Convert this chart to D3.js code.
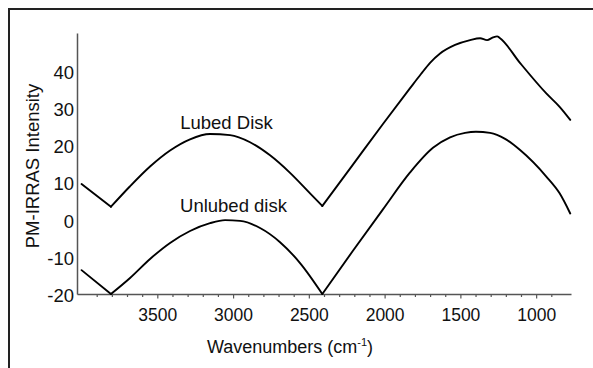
<!DOCTYPE html>
<html><head><meta charset="utf-8">
<script src="https://cdn.jsdelivr.net/npm/d3@7"></script>
<style>
html,body{margin:0;padding:0;background:#fff;}
svg{display:block;font-family:"Liberation Sans",Arial,sans-serif;}
</style></head>
<body>
<svg id="chart" width="593" height="368"></svg>
<script>
// ---- data ----
const lubedWn  = [4000, 3806, 3680, 3548, 3416, 3284, 3152, 3020, 2888, 2756, 2624, 2492, 2411,
                  2209, 2011, 1832, 1760, 1700, 1634, 1535, 1436, 1370, 1324, 1285, 1258, 1238, 1107, 933, 845, 775];
const lubedVal = [9.5, 3.4, 8.9, 14.2, 18.5, 21.5, 22.9, 22.6, 20.7, 17.2, 12.5, 7.0, 3.6,
                  14.7, 25.6, 35.2, 39.0, 42.0, 44.5, 46.8, 48.1, 48.6, 48.1, 48.8, 49.1, 48.6, 42.0, 33.8, 30.2, 26.7];
const unlubedWn  = [4000, 3806, 3680, 3548, 3416, 3284, 3152, 3053, 2954, 2822, 2690, 2558, 2411,
                    2209, 2011, 1832, 1681, 1568, 1469, 1397, 1304, 1205, 1106, 933, 845, 775];
const unlubedVal = [-13.6, -20, -15.7, -10.6, -6.3, -3.1, -1.0, -0.2, -0.4, -2.3, -6.1, -11.7, -20,
                    -8.4, 2.7, 12.6, 19.2, 22.0, 23.2, 23.5, 23.2, 21.6, 18.6, 11.5, 7.0, 1.6];
const minimaWn = [3806, 2411];
const xTickValues = d3.range(900, 4000, 100);
const xLabelValues = [3500, 3000, 2500, 2000, 1500, 1000];
const yTickValues = [-20, -10, 0, 10, 20, 30, 40];
const seriesLabels = ["Lubed Disk", "Unlubed disk"];

const svg = d3.select("#chart");
const FONT = '"Liberation Sans",Arial,sans-serif';

// frame (top and left edges only)
svg.append("path").attr("d", "M9,368 V9 H593")
  .attr("fill", "none").attr("stroke", "#222").attr("stroke-width", 2);

const x = d3.scaleLinear().domain([4030, 770]).range([77, 571]);
const y = d3.scaleLinear().domain([-20, 50]).range([294, 33]);

// x axis
const xAxis = d3.axisBottom(x).tickValues(xTickValues)
  .tickFormat(d => xLabelValues.includes(d) ? String(d) : "").tickSize(3).tickSizeOuter(0);
const gx = svg.append("g").attr("transform", `translate(0,${y(-20)})`).call(xAxis);
gx.select(".domain").attr("stroke", "#555").attr("stroke-width", 1.5);
gx.selectAll(".tick line").attr("stroke", "#555").attr("stroke-width", 1.2)
  .attr("y2", d => xLabelValues.includes(d) ? 4.5 : 3);
gx.selectAll(".tick text").attr("y", 14.5).attr("font-size", 17.5).attr("fill", "#111")
  .attr("font-family", FONT);

// y axis
const yAxis = d3.axisLeft(y).tickValues(yTickValues).tickFormat(d => String(d))
  .tickSize(0).tickPadding(3).tickSizeOuter(0);
const gy = svg.append("g").attr("transform", `translate(${x(4030)},0)`).call(yAxis);
gy.select(".domain").attr("stroke", "#555").attr("stroke-width", 1.5);
gy.selectAll(".tick text").attr("font-size", 18.5).attr("fill", "#111")
  .attr("dy", "0.42em").attr("font-family", FONT);

// lines: each series split at its sharp minima, smooth between them
const line = d3.line().x(d => x(d[0])).y(d => y(d[1])).curve(d3.curveMonotoneX);
function drawSeries(wn, val) {
  const pts = d3.zip(wn, val);
  const cuts = [0, ...minimaWn.map(m => wn.indexOf(m)), pts.length - 1];
  for (let i = 0; i < cuts.length - 1; i++) {
    svg.append("path").datum(pts.slice(cuts[i], cuts[i + 1] + 1)).attr("d", line)
      .attr("fill", "none").attr("stroke", "#000").attr("stroke-width", 1.9)
      .attr("stroke-linejoin", "round").attr("stroke-linecap", "round");
  }
}
drawSeries(lubedWn, lubedVal);
drawSeries(unlubedWn, unlubedVal);

// series labels
svg.append("text").attr("x", 226.5).attr("y", 128.5).attr("text-anchor", "middle")
  .attr("font-size", 18.5).attr("fill", "#111").text(seriesLabels[0]);
svg.append("text").attr("x", 233.5).attr("y", 212).attr("text-anchor", "middle")
  .attr("font-size", 18.5).attr("fill", "#111").text(seriesLabels[1]);

// axis titles
const xt = svg.append("text").attr("x", 290).attr("y", 353).attr("text-anchor", "middle")
  .attr("font-size", 18).attr("fill", "#111");
xt.append("tspan").text("Wavenumbers (cm");
xt.append("tspan").attr("font-size", 11).attr("dy", -7).text("-1");
xt.append("tspan").attr("dy", 7).text(")");

svg.append("text").attr("transform", "translate(38.5,166) rotate(-90)")
  .attr("text-anchor", "middle").attr("font-size", 18.5).attr("fill", "#111")
  .text("PM-IRRAS Intensity");
</script>
</body></html>
